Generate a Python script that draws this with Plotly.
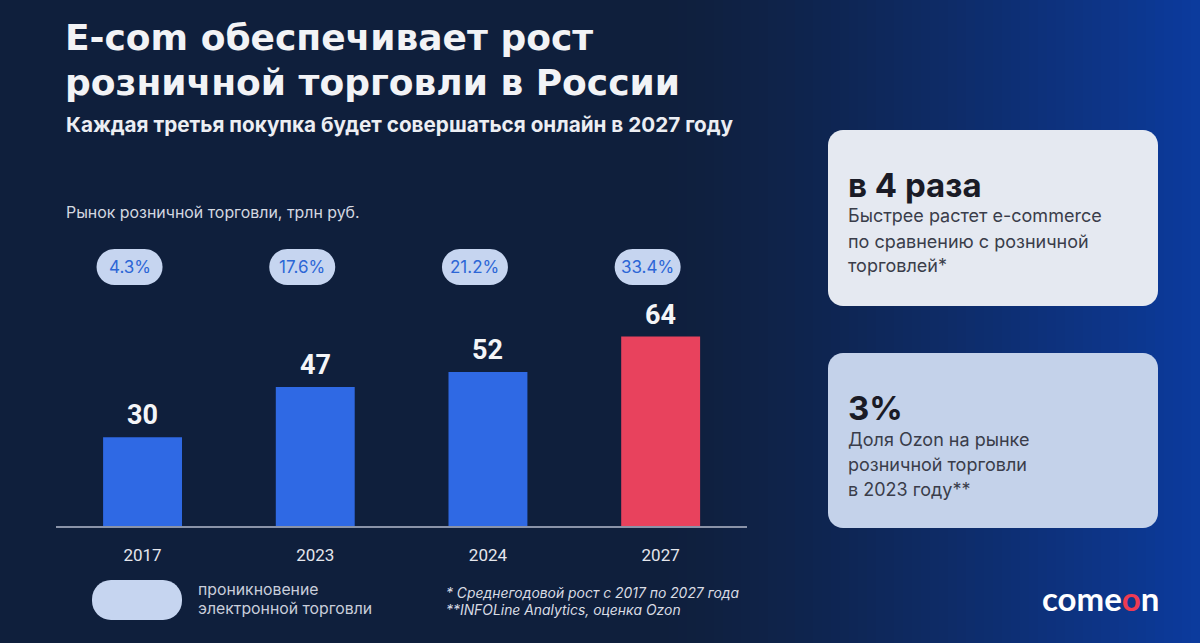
import plotly.graph_objects as go

# ---------------- data ----------------
years = ["2017", "2023", "2024", "2027"]
market = [30, 47, 52, 64]                       # трлн руб.
ecom_share = ["4.3%", "17.6%", "21.2%", "33.4%"]  # проникновение e-commerce
bar_colors = ["#2f69e4", "#2f69e4", "#2f69e4", "#e8425d"]

title_lines = ["E-com обеспечивает рост", "розничной торговли в России"]
subtitle = "Каждая третья покупка будет совершаться онлайн в 2027 году"
axis_caption = "Рынок розничной торговли, трлн руб."
legend_lines = ["проникновение", "электронной торговли"]
foot_lines = ["* Среднегодовой рост с 2017 по 2027 года", "**INFOLine Analytics, оценка Ozon"]
card1_head = "в 4 раза"
card1_lines = ["Быстрее растет e-commerce", "по сравнению с розничной", "торговлей*"]
card2_head = "3%"
card2_lines = ["Доля Ozon на рынке", "розничной торговли", "в 2023 году**"]

# ---------------- layout constants (pixels) ----------------
W, H = 1200, 643
PL, PR = 56.2, 747.0
BASE, TOP = 526.0, 100.0
PXU = 2.96
ymax = (BASE - TOP) / PXU
slot = (PR - PL) / len(years)
xpos = list(range(len(years)))


def fx(x):
    return x / W


def fy(y):
    return 1 - y / H


def rrect(x0, y0, x1, y1, r):
    k = 0.5523 * r
    p = lambda x, y: f"{fx(x):.5f},{fy(y):.5f}"
    return (f"M {p(x0 + r, y0)} L {p(x1 - r, y0)} "
            f"C {p(x1 - r + k, y0)} {p(x1, y0 + r - k)} {p(x1, y0 + r)} "
            f"L {p(x1, y1 - r)} "
            f"C {p(x1, y1 - r + k)} {p(x1 - r + k, y1)} {p(x1 - r, y1)} "
            f"L {p(x0 + r, y1)} "
            f"C {p(x0 + r - k, y1)} {p(x0, y1 - r + k)} {p(x0, y1 - r)} "
            f"L {p(x0, y0 + r)} "
            f"C {p(x0, y0 + r - k)} {p(x0 + r - k, y0)} {p(x0 + r, y0)} Z")


def hexmix(c1, c2, t):
    a = [int(c1[i:i + 2], 16) for i in (1, 3, 5)]
    b = [int(c2[i:i + 2], 16) for i in (1, 3, 5)]
    return "#" + "".join(f"{round(a[j] + (b[j] - a[j]) * t):02x}" for j in range(3))


fig = go.Figure()
fig.add_trace(go.Bar(
    x=xpos, y=market, customdata=years,
    marker=dict(color=bar_colors, line=dict(width=0)),
    width=0.457, hovertemplate="%{customdata}: %{y}<extra></extra>", showlegend=False,
))

shapes = []
# background gradient toward the right
BG = "#0f1f3c"
n = 60
x_start = 660
for i in range(n):
    x0 = x_start + (W - x_start) * i / n
    x1 = x_start + (W - x_start) * (i + 1) / n + 1
    t = ((i + 0.5) / n) ** 1.3
    shapes.append(dict(type="rect", xref="paper", yref="paper", layer="below",
                       x0=fx(x0), x1=fx(min(x1, W)), y0=0, y1=1,
                       fillcolor=hexmix(BG, "#0c3b9e", t), line=dict(width=0)))

annotations = []
# percentage pills above each category
for i, s in enumerate(ecom_share):
    cx = PL + (i + 0.5) * slot - 13
    cy = 267
    shapes.append(dict(type="path", xref="paper", yref="paper", layer="above",
                       path=rrect(cx - 33, cy - 18, cx + 33, cy + 18, 18),
                       fillcolor="#c6d5f0", line=dict(width=0)))
    annotations.append(dict(x=fx(cx), y=fy(cy), xref="paper", yref="paper",
                            text=s, showarrow=False, xanchor="center", yanchor="middle",
                            font=dict(family="Inter", size=17, color="#2c66d6")))

# value labels on bars
for i, v in zip(xpos, market):
    annotations.append(dict(x=i, y=v, xref="x", yref="y", text=f"<b>{v}</b>",
                            showarrow=False, yanchor="bottom", yshift=4,
                            font=dict(family="Roboto", size=27, color="#f4f5f8")))

# titles
for j, line in enumerate(title_lines):
    annotations.append(dict(x=fx(63), y=fy(38 + 45 * j), xref="paper", yref="paper",
                            text=f"<b>{line}</b>", showarrow=False, xanchor="left",
                            yanchor="middle",
                            font=dict(family="DejaVu Sans", size=36, color="#f2f3f6")))
annotations.append(dict(x=fx(64), y=fy(124), xref="paper", yref="paper",
                        text=f"<b>{subtitle}</b>", showarrow=False, xanchor="left",
                        yanchor="middle", font=dict(family="Inter", size=20.7, color="#eceef3")))
annotations.append(dict(x=fx(64), y=fy(212), xref="paper", yref="paper",
                        text=axis_caption, showarrow=False, xanchor="left",
                        yanchor="middle", font=dict(family="Inter", size=15.9, color="#d4d8e0")))

# legend pill
shapes.append(dict(type="path", xref="paper", yref="paper", layer="above",
                   path=rrect(92, 580, 182, 620, 19), fillcolor="#c6d5f0", line=dict(width=0)))
for j, line in enumerate(legend_lines):
    annotations.append(dict(x=fx(196), y=fy(589 + 19 * j), xref="paper", yref="paper",
                            text=line, showarrow=False, xanchor="left", yanchor="middle",
                            font=dict(family="Inter", size=15.8, color="#c9cedb")))
for j, line in enumerate(foot_lines):
    annotations.append(dict(x=fx(444), y=fy(593 + 17 * j), xref="paper", yref="paper",
                            text=f"<i>{line}</i>", showarrow=False, xanchor="left",
                            yanchor="middle",
                            font=dict(family="Inter", size=13.9, color="#d9dce4")))

# right cards
cards = [(130, 306, "#e5e9f1", card1_head, card1_lines),
         (353, 528, "#c4d2ea", card2_head, card2_lines)]
for (y0, y1, col, head, lines) in cards:
    shapes.append(dict(type="path", xref="paper", yref="paper", layer="above",
                       path=rrect(828, y0, 1158, y1, 15), fillcolor=col, line=dict(width=0)))
    annotations.append(dict(x=fx(846), y=fy(y0 + 55), xref="paper", yref="paper",
                            text=f"<b>{head}</b>", showarrow=False, xanchor="left",
                            yanchor="middle",
                            font=dict(family="Inter", size=33, color="#1a1b26")))
    for j, line in enumerate(lines):
        annotations.append(dict(x=fx(846), y=fy(y0 + 86 + 25 * j), xref="paper", yref="paper",
                                text=line, showarrow=False, xanchor="left", yanchor="middle",
                                font=dict(family="Inter", size=18, color="#3a3d4a")))

# logo
annotations.append(dict(x=fx(1100), y=fy(598), xref="paper", yref="paper",
                        text='<b>come<span style="color:#ef3b52">o</span>n</b>',
                        showarrow=False, xanchor="center", yanchor="middle",
                        font=dict(family="Lato", size=33, color="#ffffff")))

fig.update_layout(
    width=W, height=H, margin=dict(l=0, r=0, t=0, b=0, autoexpand=False),
    paper_bgcolor=BG, plot_bgcolor="rgba(0,0,0,0)",
    shapes=shapes, annotations=annotations, showlegend=False,
    xaxis=dict(domain=[fx(PL), fx(PR)], range=[-0.5, len(years) - 0.5],
               tickmode="array", tickvals=xpos, ticktext=years, automargin=False,
               showgrid=False, zeroline=False,
               showline=True, linecolor="#8a93a8", linewidth=1.5,
               ticks="outside", ticklen=13, tickcolor="rgba(0,0,0,0)",
               tickfont=dict(family="Roboto", size=17, color="#e4e6ec")),
    yaxis=dict(domain=[fy(BASE), fy(TOP)], range=[0, ymax], visible=False,
               automargin=False, showgrid=False, zeroline=False),
)

fig.write_html("out.html", config={"displayModeBar": False},
               post_script="document.body.style.margin='0px';document.body.style.overflow='hidden';")
